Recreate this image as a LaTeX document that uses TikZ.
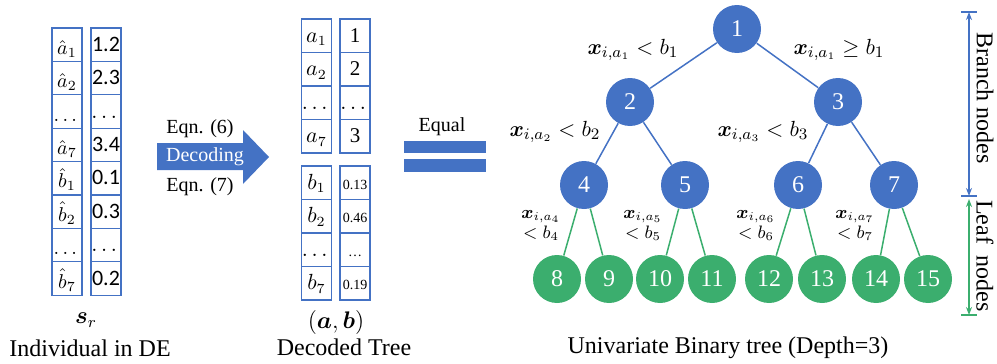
\documentclass[tikz,border=0pt]{standalone}
\usepackage{amsmath, amssymb}
\usepackage{fontspec}
\setmainfont{Liberation Serif}
\newfontfamily\calibri{Carlito}
\usetikzlibrary{arrows.meta}

\definecolor{nodeblue}{HTML}{4472C4}
\definecolor{leafgreen}{HTML}{3BAE6E}

\tikzset{
  cell/.style={draw=nodeblue, line width=0.6pt, minimum width=15pt, minimum height=16.7pt,
    inner sep=0pt, text height=8.5pt, text depth=2pt, font=\rmfamily\fontsize{10.5}{12}\selectfont},
  hatcell/.style={cell, text height=10.5pt, text depth=1pt, font=\rmfamily\fontsize{10}{12}\selectfont},
  numcell/.style={cell, font=\calibri\fontsize{11}{12}\selectfont},
  branch/.style={circle, fill=nodeblue, text=white, minimum size=24pt, inner sep=0pt,
    font=\rmfamily\fontsize{12}{12}\selectfont},
  leaf/.style={branch, fill=leafgreen},
  bedge/.style={draw=nodeblue, line width=0.75pt},
  ledge/.style={draw=leafgreen, line width=0.75pt},
  cond/.style={inner sep=0pt, font=\fontsize{11}{12}\selectfont},
  smallcond/.style={inner sep=0pt, align=center, font=\fontsize{9}{10}\selectfont},
  caption/.style={inner sep=0pt, font=\rmfamily\fontsize{12}{14}\selectfont},
  label/.style={inner sep=0pt, font=\rmfamily\fontsize{10}{12}\selectfont},
}

\begin{document}
\begin{tikzpicture}[x=0.5pt, y=-0.5pt]

 \useasboundingbox (0,0) rectangle (997,364);

 % individual in DE
 \foreach \t [count=\i] in {$\hat{a}_1$, $\hat{a}_2$, $\dots$, $\hat{a}_7$,
                            $\hat{b}_1$, $\hat{b}_2$, $\dots$, $\hat{b}_7$}
   \node[hatcell] (s\i) at (67, {28+33.4*(\i-0.5)}) {\t};
 \foreach \t [count=\i] in {1.2, 2.3, $\dots$, 3.4, 0.1, 0.3, $\dots$, 0.2}
   \node[numcell] (v\i) at (106, {28+33.4*(\i-0.5)}) {\t};

 \node[caption] (sr) at (86,320) {$\boldsymbol{s}_r$};
 \node[caption] (indiv) at (90,348) {Individual in DE};

 % decoding arrow
 \fill[nodeblue] (157,143) -- (243,143) -- (243,130) -- (269,157) -- (243,184)
   -- (243,170) -- (157,170) -- cycle;
 \node[label, text=white] (decode) at (205,157) {Decoding};
 \node[label] (eqsix) at (200,129) {Eqn. (6)};
 \node[label] (eqseven) at (200,187) {Eqn. (7)};

 % decoded tree
 \foreach \t [count=\i] in {$a_1$, $a_2$, $\dots$, $a_7$}
   \node[cell] (a\i) at (316.5, {19+33.5*(\i-0.5)}) {\t};
 \foreach \t [count=\i] in {1, 2, $\dots$, 3}
   \node[cell] (f\i) at (355, {19+33.5*(\i-0.5)}) {\t};
 \foreach \t [count=\i] in {$b_1$, $b_2$, $\dots$, $b_7$}
   \node[cell] (b\i) at (316.5, {166+33.5*(\i-0.5)}) {\t};
 \foreach \t [count=\i] in {0.13, 0.46, \dots, 0.19}
   \node[cell, font=\rmfamily\fontsize{7}{8}\selectfont] (t\i) at (355, {166+33.5*(\i-0.5)}) {\t};

 \node[caption] (ab) at (336,322) {$(\boldsymbol{a},\boldsymbol{b})$};
 \node[caption] (dectree) at (344,347) {Decoded Tree};

 % equal sign
 \node[label] (equal) at (442,127) {Equal};
 \fill[nodeblue] (404,141) rectangle (486,153);
 \fill[nodeblue] (404,159) rectangle (486,172);

 % the tree
 \node[branch] (n1) at (737,29) {1};
 \node[branch] (n2) at (630,102) {2};
 \node[branch] (n3) at (838,102) {3};
 \node[branch] (n4) at (584,185) {4};
 \node[branch] (n5) at (685,185) {5};
 \node[branch] (n6) at (798,185) {6};
 \node[branch] (n7) at (894,185) {7};
 \node[leaf] (n8) at (557,279) {8};
 \node[leaf] (n9) at (609,279) {9};
 \node[leaf] (n10) at (660,279) {10};
 \node[leaf] (n11) at (712,279) {11};
 \node[leaf] (n12) at (769,279) {12};
 \node[leaf] (n13) at (822,279) {13};
 \node[leaf] (n14) at (876,279) {14};
 \node[leaf] (n15) at (928,279) {15};

 \draw[bedge] (n1) -- (n2);
 \draw[bedge] (n1) -- (n3);
 \draw[bedge] (n2) -- (n4);
 \draw[bedge] (n2) -- (n5);
 \draw[bedge] (n3) -- (n6);
 \draw[bedge] (n3) -- (n7);
 \draw[ledge] (n4) -- (n8);
 \draw[ledge] (n4) -- (n9);
 \draw[ledge] (n5) -- (n10);
 \draw[ledge] (n5) -- (n11);
 \draw[ledge] (n6) -- (n12);
 \draw[ledge] (n6) -- (n13);
 \draw[ledge] (n7) -- (n14);
 \draw[ledge] (n7) -- (n15);

 \node[cond] (c1) at (633,50) {$\boldsymbol{x}_{i,a_1} < b_1$};
 \node[cond] (c1r) at (839,50) {$\boldsymbol{x}_{i,a_1} \geq b_1$};
 \node[cond] (c2) at (555,132) {$\boldsymbol{x}_{i,a_2} < b_2$};
 \node[cond] (c3) at (763,132) {$\boldsymbol{x}_{i,a_3} < b_3$};
 \node[smallcond] (c4) at (541,225) {$\boldsymbol{x}_{i,a_4}$\\$< b_4$};
 \node[smallcond] (c5) at (643,225) {$\boldsymbol{x}_{i,a_5}$\\$< b_5$};
 \node[smallcond] (c6) at (756,225) {$\boldsymbol{x}_{i,a_6}$\\$< b_6$};
 \node[smallcond] (c7) at (855,225) {$\boldsymbol{x}_{i,a_7}$\\$< b_7$};

 \node[caption] (title) at (728,348) {Univariate Binary tree (Depth=3)};

 % depth scale
 \coordinate (btop) at (969,12);
 \coordinate (bbot) at (969,196);
 \coordinate (ltop) at (969,199);
 \coordinate (lbot) at (969,315);
 \draw[nodeblue, line width=0.75pt] ([xshift=-4pt]btop) -- ([xshift=4pt]btop);
 \draw[nodeblue, line width=0.75pt] ([xshift=-4pt]bbot) -- ([xshift=4pt]bbot);
 \draw[leafgreen, line width=0.75pt] ([xshift=-4pt]lbot) -- ([xshift=4pt]lbot);
 \draw[nodeblue, line width=0.75pt, {Stealth[length=4pt]}-{Stealth[length=4pt]}] (btop) -- (bbot);
 \draw[leafgreen, line width=0.75pt, {Stealth[length=4pt]}-{Stealth[length=4pt]}] (ltop) -- (lbot);
 \node[caption, rotate=-90] (brtext) at (985,98) {Branch nodes};
 \node[caption, rotate=-90] (lftext) at (985,256) {Leaf~~nodes};

\end{tikzpicture}
\end{document}
